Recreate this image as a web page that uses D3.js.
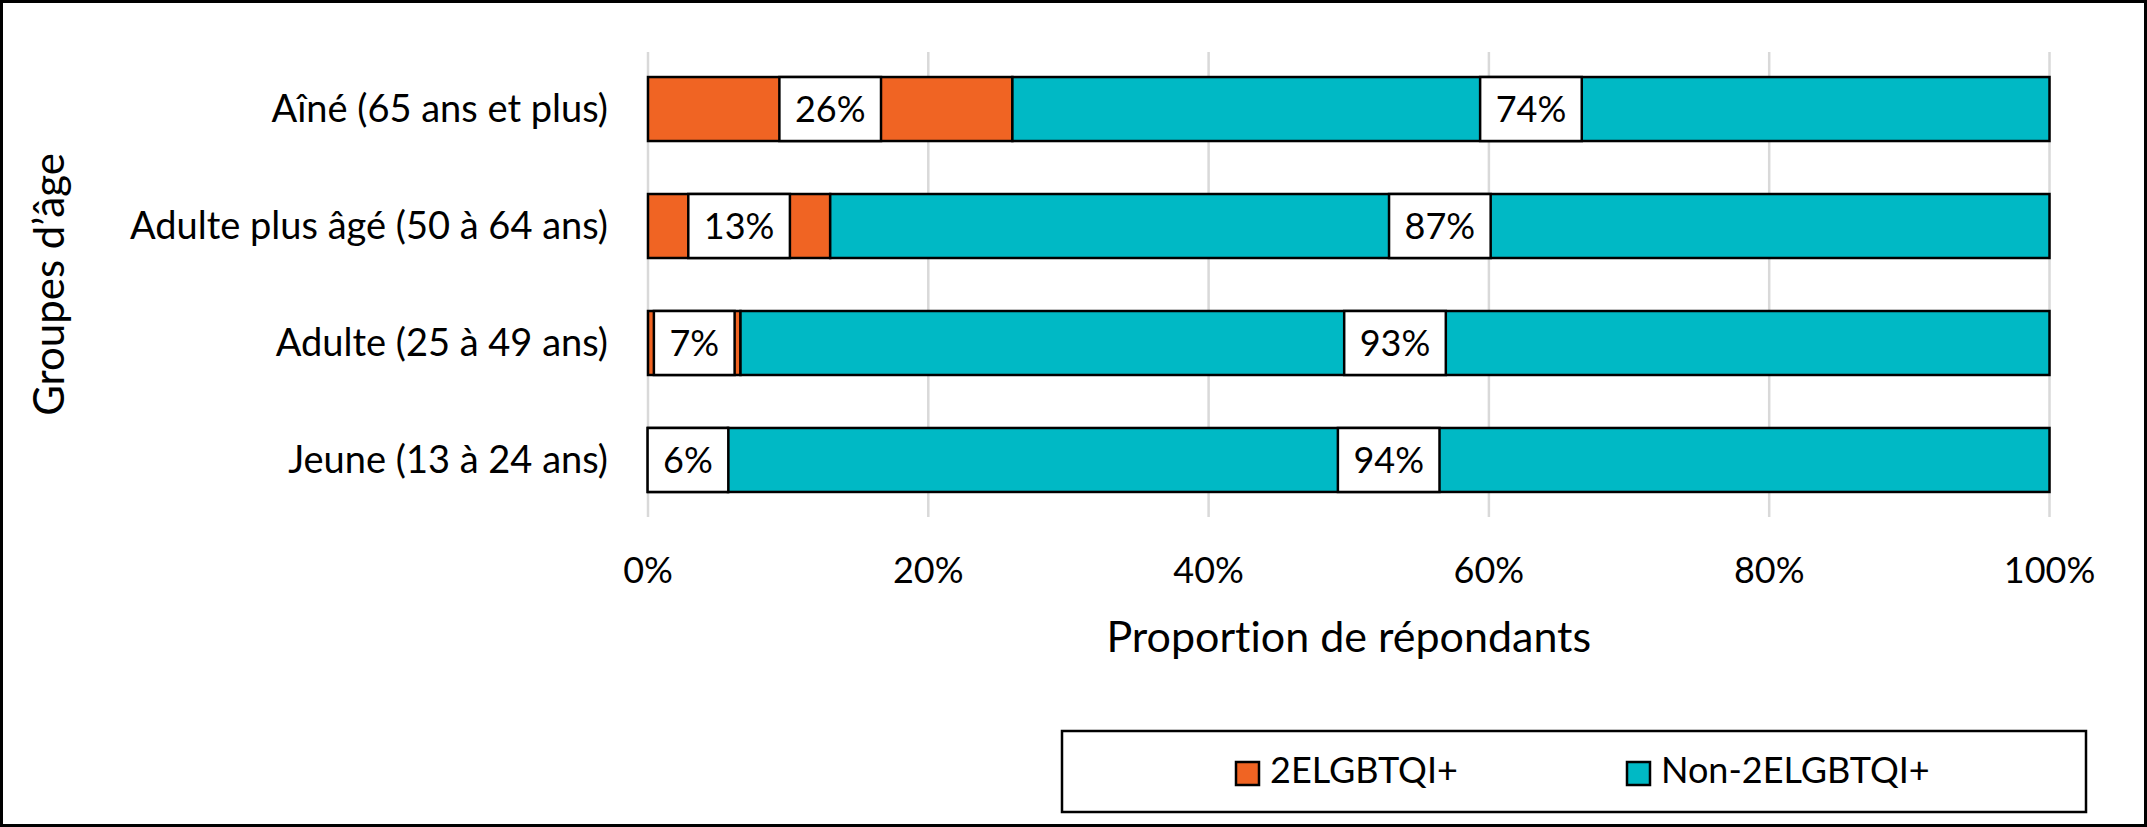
<!DOCTYPE html>
<html>
<head>
<meta charset="utf-8">
<script src="https://cdn.jsdelivr.net/npm/d3@7"></script>
<style>
  html, body { margin: 0; padding: 0; background: #fff; }
  svg { display: block; }
  text { font-family: Lato, "Open Sans", sans-serif; fill: #000; font-variant-ligatures: none; font-feature-settings: "liga" 0, "clig" 0; }
</style>
</head>
<body>
<svg id="chart" width="2147" height="827"></svg>
<script>
// ---- Data ----
const categories = ["Aîné (65 ans et plus)", "Adulte plus âgé (50 à 64 ans)", "Adulte (25 à 49 ans)", "Jeune (13 à 24 ans)"];
const series = ["2ELGBTQI+", "Non-2ELGBTQI+"];
const valuesLGBT = [26.0, 13.0, 6.6, 5.7];
const valuesNon = [74.0, 87.0, 93.4, 94.3];
const xTicks = [0, 20, 40, 60, 80, 100];
const xTitle = "Proportion de répondants";
const yTitle = "Groupes d’âge";
const colors = ["#F06423", "#00B9C5"];

// ---- Layout ----
const W = 2147, H = 827;
const svg = d3.select("#chart");
svg.append("rect").attr("x", 0).attr("y", 0).attr("width", W).attr("height", H).attr("fill", "#fff");

const x = d3.scaleLinear().domain([0, 100]).range([648, 2049.5]);
const y = d3.scaleBand().domain(categories).range([52, 517]).paddingInner(0.453).paddingOuter(0.214);
const bw = y.bandwidth();

// gridlines
svg.append("g").selectAll("line").data(xTicks).join("line")
  .attr("x1", d => x(d)).attr("x2", d => x(d))
  .attr("y1", 52).attr("y2", 517)
  .attr("stroke", "#d9d9d9").attr("stroke-width", 2.5);

// stacked data
const rows = categories.map((c, i) => ({ cat: c, v: [valuesLGBT[i], valuesNon[i]] }));
const segs = [];
rows.forEach(r => {
  let acc = 0;
  r.v.forEach((v, k) => { segs.push({ cat: r.cat, k, x0: acc, x1: acc + v, v }); acc += v; });
});

// bars
svg.append("g").selectAll("rect").data(segs).join("rect")
  .attr("x", d => x(d.x0)).attr("y", d => y(d.cat))
  .attr("width", d => x(d.x1) - x(d.x0)).attr("height", bw)
  .attr("fill", d => colors[d.k]).attr("stroke", "#000").attr("stroke-width", 2.5);

// data labels
const lab = svg.append("g").selectAll("g").data(segs).join("g")
  .attr("transform", d => `translate(${x((d.x0 + d.x1) / 2)},${y(d.cat) + bw / 2})`);
lab.append("rect").attr("class", "lb").attr("fill", "#fff").attr("stroke", "#000").attr("stroke-width", 2.5);
lab.append("text").attr("text-anchor", "middle").attr("y", 13).attr("font-size", 36)
  .text(d => Math.round(d.v) + "%");
lab.each(function () {
  const g = d3.select(this);
  const w = g.select("text").node().getComputedTextLength() + 31;
  g.select("rect").attr("x", -w / 2).attr("y", -bw / 2).attr("width", w).attr("height", bw);
});

// category labels
svg.append("g").selectAll("text").data(categories).join("text")
  .attr("x", 608).attr("y", d => y(d) + bw / 2 + 13)
  .attr("text-anchor", "end").attr("font-size", 38).text(d => d);

// x tick labels
svg.append("g").selectAll("text").data(xTicks).join("text")
  .attr("x", d => x(d)).attr("y", 583).attr("text-anchor", "middle").attr("font-size", 36)
  .text(d => d + "%");

// axis titles
svg.append("text").attr("x", (x(0) + x(100)) / 2).attr("y", 652).attr("text-anchor", "middle")
  .attr("font-size", 43).text(xTitle);
svg.append("text").attr("transform", `translate(64,${(y.range()[0] + y.range()[1]) / 2}) rotate(-90)`)
  .attr("text-anchor", "middle").attr("font-size", 42).text(yTitle);

// legend
const leg = svg.append("g");
leg.append("rect").attr("x", 1062).attr("y", 731).attr("width", 1024).attr("height", 81)
  .attr("fill", "#fff").attr("stroke", "#000").attr("stroke-width", 2.5);
const legX = [1236, 1627];
const li = leg.selectAll("g").data(series).join("g")
  .attr("transform", (d, i) => `translate(${legX[i]},762)`);
li.append("rect").attr("width", 23).attr("height", 23).attr("fill", (d, i) => colors[i])
  .attr("stroke", "#000").attr("stroke-width", 2.5);
li.append("text").attr("x", 34).attr("y", 21).attr("font-size", 36).text(d => d);

// outer border
svg.append("rect").attr("x", 1.5).attr("y", 1.5).attr("width", W - 3).attr("height", H - 3)
  .attr("fill", "none").attr("stroke", "#000").attr("stroke-width", 3);
</script>
</body>
</html>
